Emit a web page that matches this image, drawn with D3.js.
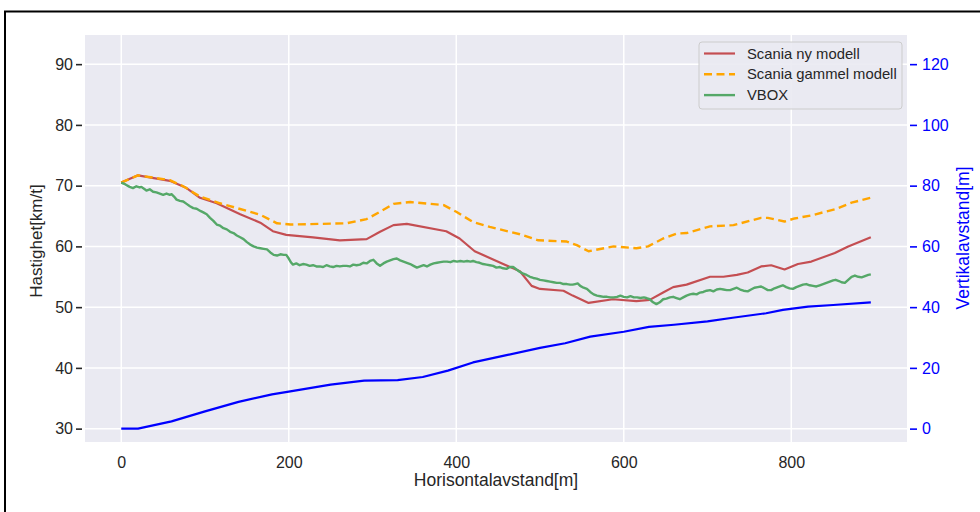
<!DOCTYPE html>
<html>
<head>
<meta charset="utf-8">
<script src="https://cdn.jsdelivr.net/npm/d3@7"></script>
<style>
  body { margin: 0; background: #fff; }
  text { font-family: "Liberation Sans", Arial, sans-serif; }
</style>
</head>
<body>
<div id="chart"></div>
<script>
// data: distance [m] -> speed [km/t] / height [m]
const nyDist = [0, 20, 58, 78, 94, 114, 142, 166, 181, 197, 229, 261, 293, 309, 325, 341, 388, 404, 422, 440, 456, 476, 490, 500, 528, 539, 558, 587, 615, 631, 647, 659, 675, 703, 719, 735, 748, 764, 776, 792, 808, 824, 852, 868, 895];
const nyModell = [70.5, 71.7, 70.8, 69.6, 68.0, 67.1, 65.3, 63.9, 62.5, 61.9, 61.5, 61.0, 61.2, 62.4, 63.5, 63.7, 62.5, 61.3, 59.2, 58.1, 57.1, 55.9, 53.5, 53.0, 52.7, 51.9, 50.7, 51.3, 51.0, 51.2, 52.4, 53.3, 53.7, 55.0, 55.0, 55.3, 55.7, 56.7, 56.9, 56.2, 57.1, 57.5, 58.9, 60.0, 61.5];

const gammelDist = [0, 20, 58, 74, 94, 118, 166, 186, 202, 269, 293, 309, 325, 345, 385, 400, 420, 440, 476, 498, 532, 544, 558, 588, 615, 629, 647, 663, 675, 703, 731, 764, 772, 792, 804, 824, 852, 872, 895];
const gammelModell = [70.5, 71.7, 70.9, 69.9, 68.2, 67.1, 65.2, 63.8, 63.6, 63.8, 64.5, 65.7, 67.0, 67.3, 66.8, 65.7, 64.0, 63.2, 62.0, 61.0, 60.8, 60.2, 59.2, 60.0, 59.7, 60.0, 61.3, 62.1, 62.2, 63.3, 63.5, 64.7, 64.7, 64.1, 64.6, 65.1, 66.1, 67.2, 68.0];

const vboxDist = [0, 5, 10, 14, 18, 22, 24, 28, 30, 34, 38, 42, 46, 50, 54, 58, 60, 63, 66, 70, 74, 78, 82, 86, 90, 95, 98, 102, 106, 110, 114, 118, 122, 126, 130, 134, 138, 142, 146, 150, 154, 158, 162, 166, 170, 174, 178, 182, 186, 190, 194, 197, 200, 203, 205, 209, 213, 217, 221, 225, 229, 233, 237, 241, 245, 249, 253, 257, 261, 265, 269, 273, 277, 281, 285, 289, 293, 297, 301, 305, 309, 313, 317, 321, 325, 329, 333, 337, 341, 345, 349, 353, 357, 361, 365, 369, 373, 377, 381, 385, 389, 393, 397, 401, 405, 409, 413, 417, 420, 424, 428, 432, 436, 440, 444, 448, 452, 456, 460, 464, 468, 472, 476, 480, 484, 488, 492, 496, 500, 504, 508, 512, 516, 520, 524, 528, 532, 536, 539, 542, 545, 548, 552, 556, 560, 564, 568, 572, 576, 580, 584, 588, 592, 596, 600, 604, 608, 612, 616, 620, 624, 627, 631, 635, 639, 643, 647, 651, 655, 659, 663, 667, 671, 675, 679, 683, 687, 691, 695, 699, 703, 707, 711, 715, 719, 723, 727, 731, 735, 739, 743, 748, 752, 756, 760, 764, 768, 772, 776, 780, 784, 788, 790, 794, 798, 802, 806, 810, 814, 818, 822, 826, 830, 834, 838, 842, 846, 850, 853, 857, 860, 864, 868, 872, 876, 880, 884, 888, 892, 895];
const vbox = [70.5, 70.2, 69.8, 69.6, 69.9, 69.7, 69.8, 69.4, 69.2, 69.4, 69.0, 68.9, 68.7, 68.5, 68.7, 68.5, 68.6, 68.2, 67.7, 67.5, 67.4, 67.0, 66.6, 66.3, 66.2, 65.8, 65.6, 65.3, 64.7, 64.2, 63.6, 63.4, 63.0, 62.8, 62.4, 62.2, 61.8, 61.5, 61.2, 60.7, 60.3, 60.0, 59.8, 59.7, 59.6, 59.5, 59.0, 58.6, 58.5, 58.7, 58.6, 58.6, 58.0, 57.3, 57.0, 57.2, 56.9, 57.1, 57.0, 56.8, 56.9, 56.7, 56.7, 56.6, 56.9, 56.7, 56.6, 56.8, 56.7, 56.8, 56.8, 56.7, 57.0, 56.9, 57.0, 57.3, 57.2, 57.6, 57.8, 57.2, 56.8, 57.2, 57.5, 57.7, 57.9, 58.0, 57.7, 57.5, 57.3, 57.1, 56.8, 56.5, 56.7, 56.9, 56.7, 57.0, 57.2, 57.3, 57.4, 57.5, 57.5, 57.4, 57.6, 57.5, 57.6, 57.5, 57.6, 57.5, 57.6, 57.4, 57.3, 57.1, 57.0, 56.9, 56.8, 56.5, 56.6, 56.4, 56.3, 56.6, 56.6, 56.2, 55.8, 55.5, 55.3, 55.0, 54.8, 54.7, 54.5, 54.4, 54.3, 54.2, 54.1, 54.0, 54.0, 53.8, 53.8, 53.7, 53.7, 53.8, 53.9, 53.5, 53.2, 53.0, 52.5, 52.1, 51.9, 51.8, 51.7, 51.7, 51.6, 51.6, 51.7, 51.9, 51.7, 51.6, 51.8, 51.6, 51.6, 51.5, 51.6, 51.5, 51.3, 50.8, 50.5, 50.8, 51.3, 51.4, 51.6, 51.7, 51.5, 51.3, 51.6, 51.9, 52.1, 52.2, 52.1, 52.4, 52.5, 52.7, 52.8, 52.6, 52.9, 53.0, 52.9, 52.8, 52.8, 53.0, 53.2, 52.9, 52.7, 52.6, 52.9, 53.2, 53.3, 53.4, 53.1, 52.8, 52.8, 53.1, 53.3, 53.5, 53.6, 53.3, 53.1, 53.0, 53.3, 53.5, 53.7, 53.8, 53.6, 53.5, 53.4, 53.6, 53.8, 54.0, 54.2, 54.4, 54.5, 54.3, 54.1, 54.0, 54.5, 55.0, 55.2, 55.0, 54.9, 55.1, 55.3, 55.4];

const hoydeDist = [0, 20, 60, 100, 140, 180, 200, 250, 290, 330, 360, 390, 420, 460, 500, 530, 560, 600, 630, 660, 700, 730, 770, 790, 820, 850, 895];
const hoyde = [0, 0, 2.4, 5.7, 8.8, 11.3, 12.2, 14.5, 15.8, 16.0, 17.0, 19.1, 21.8, 24.2, 26.6, 28.1, 30.3, 31.9, 33.5, 34.2, 35.3, 36.5, 38.0, 39.1, 40.2, 40.7, 41.6];

const xTicks = [0, 200, 400, 600, 800];
const leftTicks = [30, 40, 50, 60, 70, 80, 90];
const rightTicks = [0, 20, 40, 60, 80, 100, 120];
const legendNames = ['Scania ny modell', 'Scania gammel modell', 'VBOX'];

const width = 980;
const height = 512;
const plot = { left: 85, right: 907, top: 35, bottom: 442 };
const txt = '#262626';

const svg = d3.select('#chart')
	.append('svg')
	.attr('width', width)
	.attr('height', height);

// figure frame
svg.append('rect')
	.attr('x', 5).attr('y', 11.5)
	.attr('width', 1000).attr('height', 600)
	.attr('fill', 'none').attr('stroke', '#000').attr('stroke-width', 2);

const x = d3.scaleLinear().domain([-43.3, 938.2]).range([plot.left, plot.right]);
const yL = d3.scaleLinear().domain([27.8, 94.8]).range([plot.bottom, plot.top]);
const yR = d3.scaleLinear().domain([-4.4, 129.6]).range([plot.bottom, plot.top]);

svg.append('rect')
	.attr('x', plot.left).attr('y', plot.top)
	.attr('width', plot.right - plot.left).attr('height', plot.bottom - plot.top)
	.attr('fill', '#eaeaf2');

// grid
svg.append('g').selectAll('line')
	.data(xTicks).enter().append('line')
	.attr('x1', d => x(d)).attr('x2', d => x(d))
	.attr('y1', plot.top).attr('y2', plot.bottom)
	.attr('stroke', '#fff').attr('stroke-width', 1.5);
svg.append('g').selectAll('line')
	.data(leftTicks).enter().append('line')
	.attr('x1', plot.left).attr('x2', plot.right)
	.attr('y1', d => yL(d)).attr('y2', d => yL(d))
	.attr('stroke', '#fff').attr('stroke-width', 1.5);

// axes
const xAxis = svg.append('g')
	.attr('transform', 'translate(0,' + (plot.bottom - 5) + ')')
	.call(d3.axisBottom(x).tickValues(xTicks).tickSize(0).tickPadding(20));
const leftAxis = svg.append('g')
	.attr('transform', 'translate(' + (plot.left - 3) + ',0)')
	.call(d3.axisLeft(yL).tickValues(leftTicks).tickSize(6).tickPadding(3));
const rightAxis = svg.append('g')
	.attr('transform', 'translate(' + (plot.right + 3) + ',0)')
	.call(d3.axisRight(yR).tickValues(rightTicks).tickSize(7).tickPadding(5));

[xAxis, leftAxis, rightAxis].forEach(a => {
	a.select('.domain').remove();
	a.selectAll('text').style('font-size', '16px').attr('font-family', null);
});
xAxis.selectAll('text').attr('fill', txt);
leftAxis.selectAll('text').attr('fill', txt);
leftAxis.selectAll('line').attr('stroke', txt).attr('stroke-width', 1.6);
rightAxis.selectAll('text').attr('fill', 'blue');
rightAxis.selectAll('line').attr('stroke', 'blue').attr('stroke-width', 1.6);

// axis titles
svg.append('text')
	.attr('x', (plot.left + plot.right) / 2).attr('y', 486)
	.attr('text-anchor', 'middle').style('font-size', '17.5px').attr('fill', txt)
	.text('Horisontalavstand[m]');
svg.append('text')
	.attr('transform', 'translate(42,' + 241 + ') rotate(-90)')
	.attr('text-anchor', 'middle').style('font-size', '17px').attr('fill', txt)
	.text('Hastighet[km/t]');
svg.append('text')
	.attr('transform', 'translate(969,' + 238 + ') rotate(-90)')
	.attr('text-anchor', 'middle').style('font-size', '17.5px').attr('fill', 'blue')
	.text('Vertikalavstand[m]');

// series
const series = [
	{ xs: nyDist, ys: nyModell, scale: yL, color: '#c44e52', dash: null, w: 2.2 },
	{ xs: gammelDist, ys: gammelModell, scale: yL, color: 'orange', dash: '8,4.5', w: 2.4 },
	{ xs: vboxDist, ys: vbox, scale: yL, color: '#55a868', dash: null, w: 2.4 },
	{ xs: hoydeDist, ys: hoyde, scale: yR, color: 'blue', dash: null, w: 2.2 }
];
series.forEach(s => {
	const line = d3.line()
		.x((d, i) => x(s.xs[i]))
		.y(d => s.scale(d));
	svg.append('path')
		.datum(s.ys)
		.attr('d', line)
		.attr('fill', 'none')
		.attr('stroke', s.color)
		.attr('stroke-width', s.w)
		.attr('stroke-dasharray', s.dash)
		.attr('stroke-linejoin', 'round');
});

// legend
const lg = svg.append('g').attr('transform', 'translate(699,42)');
lg.append('rect')
	.attr('width', 203).attr('height', 67).attr('rx', 3)
	.attr('fill', '#eaeaf2').attr('fill-opacity', 0.9)
	.attr('stroke', '#cccccc').attr('stroke-width', 1);
series.slice(0, 3).forEach((s, i) => {
	const yy = 11.5 + i * 20.8;
	lg.append('line')
		.attr('x1', 5).attr('x2', 36).attr('y1', yy).attr('y2', yy)
		.attr('stroke', s.color).attr('stroke-width', s.w)
		.attr('stroke-dasharray', s.dash);
	lg.append('text')
		.attr('x', 48).attr('y', yy)
		.attr('dy', '0.35em')
		.style('font-size', '14.8px').attr('fill', txt)
		.text(legendNames[i]);
});
</script>
</body>
</html>
